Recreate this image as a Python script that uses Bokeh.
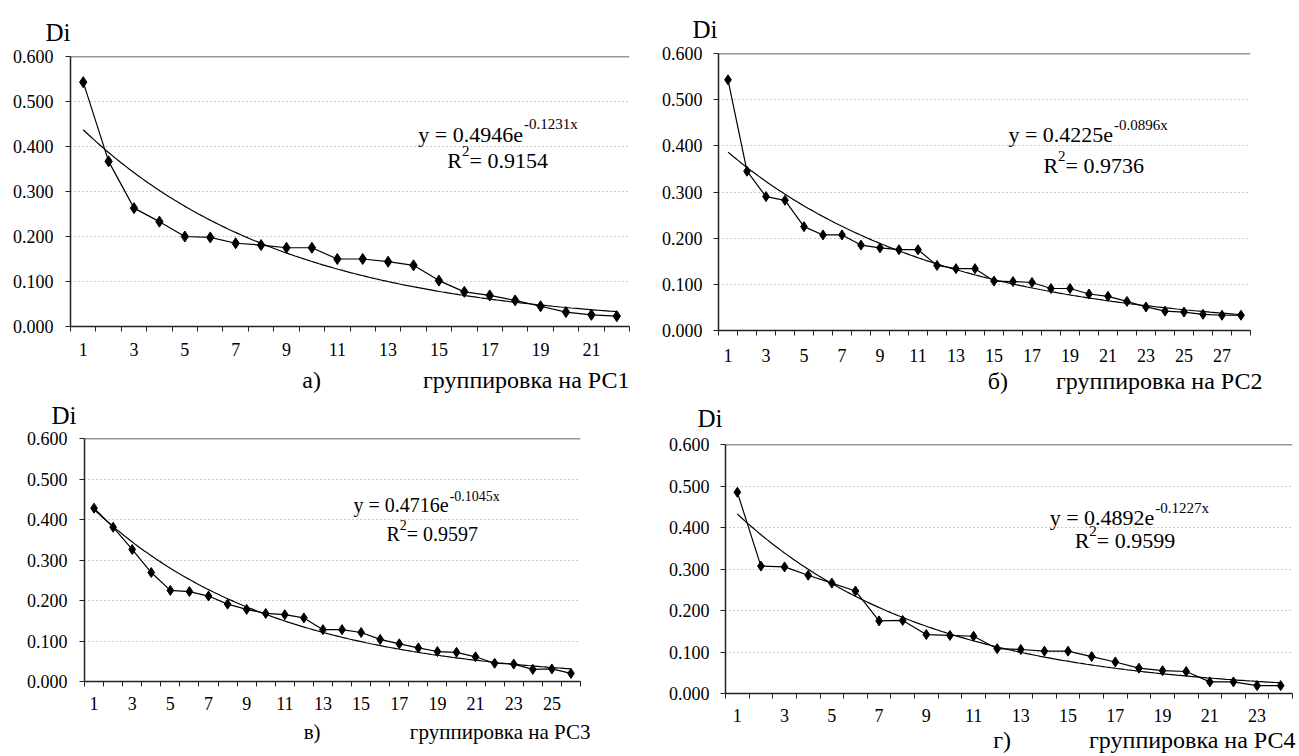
import numpy as np
from bokeh.plotting import figure
from bokeh.models import Range1d, FixedTicker, NumeralTickFormatter, Span, Label, Title, ColumnDataSource
from bokeh.layouts import column, row
from bokeh.embed import file_html
from bokeh.resources import INLINE

# ---------------- data ----------------
x_a = list(range(1, 23))
di_a = [0.543, 0.367, 0.263, 0.233, 0.200, 0.198, 0.185, 0.181, 0.175, 0.175, 0.150,
        0.150, 0.144, 0.136, 0.102, 0.077, 0.069, 0.058, 0.045, 0.032, 0.026, 0.023]
fit_a = [0.4946, -0.1231]
r2_a = "0.9154"

x_b = list(range(1, 29))
di_b = [0.543, 0.345, 0.290, 0.282, 0.225, 0.207, 0.207, 0.185, 0.179, 0.175, 0.175,
        0.141, 0.134, 0.134, 0.107, 0.106, 0.104, 0.091, 0.091, 0.079, 0.074, 0.063,
        0.051, 0.042, 0.040, 0.035, 0.033, 0.033]
fit_b = [0.4225, -0.0896]
r2_b = "0.9736"

x_c = list(range(1, 27))
di_c = [0.428, 0.381, 0.326, 0.269, 0.225, 0.222, 0.211, 0.191, 0.178, 0.168, 0.165,
        0.157, 0.128, 0.128, 0.121, 0.104, 0.093, 0.083, 0.074, 0.072, 0.061, 0.045,
        0.043, 0.030, 0.031, 0.020]
fit_c = [0.4716, -0.1045]
r2_c = "0.9597"

x_d = list(range(1, 25))
di_d = [0.485, 0.307, 0.305, 0.285, 0.266, 0.247, 0.175, 0.176, 0.142, 0.140, 0.138,
        0.108, 0.106, 0.102, 0.102, 0.089, 0.076, 0.061, 0.055, 0.053, 0.028, 0.028,
        0.019, 0.019]
fit_d = [0.4892, -0.1227]
r2_d = "0.9599"

y_ticks = [0.0, 0.1, 0.2, 0.3, 0.4, 0.5, 0.6]
xlabels = ["группировка на РС1", "группировка на РС2", "группировка на РС3", "группировка на РС4"]
letters = ["а)", "б)", "в)", "г)"]
ylabel = "Di"

FONT = "Liberation Serif"
TW = {' ': 250, '=': 564, '.': 250, '-': 333, 'y': 500, 'e': 444, 'R': 667, 'x': 500}
NB = "\u00a0"


def tw(s, size):
    return sum(TW.get(ch, 500) for ch in s) / 1000.0 * size


def panel(xs, ys, fit, r2, xlabel, letter, geo):
    n = len(xs)
    p = figure(width=geo["w"], height=geo["h"], output_backend="svg", toolbar_location=None,
               x_range=Range1d(0.5, n + 0.5), y_range=Range1d(0, 0.6),
               min_border_left=geo["bl"], min_border_right=geo["br"],
               min_border_top=geo["bt"], min_border_bottom=geo["bb"])
    p.outline_line_color = None
    p.background_fill_color = "white"
    p.border_fill_color = None
    p.xgrid.visible = False
    p.ygrid.grid_line_color = "#9a9a9a"
    p.ygrid.grid_line_dash = "1 3"
    p.ygrid.grid_line_width = 1

    odd = [v for v in xs if v % 2 == 1]
    halves = [v + 0.5 for v in range(0, n + 1)]
    xa = p.xaxis[0]
    ya = p.yaxis[0]
    xa.ticker = FixedTicker(ticks=odd, minor_ticks=halves)
    xa.major_tick_line_color = None
    xa.minor_tick_out = 5
    xa.minor_tick_in = 0
    xa.minor_tick_line_color = "#222"
    ya.ticker = FixedTicker(ticks=y_ticks)
    ya.formatter = NumeralTickFormatter(format="0.000")
    ya.major_tick_out = 5
    ya.major_tick_in = 0
    ya.major_tick_line_color = "#222"
    ya.minor_tick_line_color = None
    for ax in (xa, ya):
        ax.axis_line_color = "#222"
        ax.axis_line_width = 1.5
        ax.major_label_text_font = FONT
        ax.major_label_text_font_size = geo["tick"]
        ax.major_label_text_color = "black"
    xa.major_label_standoff = geo["xstand"]
    ya.major_label_standoff = geo["ystand"]

    p.add_layout(Span(location=0.6, dimension="width", line_color="#333", line_width=1.5))

    # trend line from the printed equation
    tx = np.linspace(xs[0], xs[-1], 200)
    ty = fit[0] * np.exp(fit[1] * tx)
    p.line(tx, ty, line_color="black", line_width=1.2)

    src = ColumnDataSource(dict(x=xs, y=ys))
    p.line("x", "y", source=src, line_color="black", line_width=1.2)
    p.scatter("x", "y", source=src, marker="diamond", size=geo["ms"], fill_color="black", line_color="black")

    es = geo["eqs"]
    ss = geo["sups"]
    main = "y = %.4fe" % fit[0]
    sup = "%.4fx" % fit[1]
    common = dict(text_font=FONT, text_align="left", text_baseline="alphabetic", text_color="black")
    p.add_layout(Label(x=geo["eqx"], y=geo["eqy"], text=main, text_font_size="%dpx" % es, **common))
    p.add_layout(Label(x=geo["eqx"], y=geo["eqy"], x_offset=tw(main, es) + 1, y_offset=es * 0.45, text=sup,
                       text_font_size="%dpx" % ss, **common))
    p.add_layout(Label(x=geo["rx"], y=geo["ry"], text="R", text_font_size="%dpx" % es, **common))
    p.add_layout(Label(x=geo["rx"], y=geo["ry"], x_offset=tw("R", es), y_offset=es * 0.45, text="2",
                       text_font_size="%dpx" % ss, **common))
    p.add_layout(Label(x=geo["rx"], y=geo["ry"], x_offset=tw("R", es) + tw("2", ss), text="= " + r2,
                       text_font_size="%dpx" % es, **common))

    p.add_layout(Title(text=ylabel, align="left", offset=geo["dioff"], standoff=geo["distand"],
                       text_font=FONT, text_font_size=geo["di"], text_font_style="normal",
                       text_color="black"), "above")
    cap = letter + NB * geo["gap"] + xlabel
    p.add_layout(Title(text=cap, align="right", offset=geo["capoff"], standoff=geo["capstand"],
                       text_font=FONT, text_font_size=geo["lab"], text_font_style="normal",
                       text_color="black"), "below")
    return p


geo_a = dict(w=640, h=400, bl=70, br=11, bt=56, bb=74, tick="18px", xstand=10, ystand=12, ms=11,
             eqs=22, sups=15, eqx=14.19, eqy=0.427, rx=15.33, ry=0.369,
             di="25px", dioff=-25, distand=21, lab="24px", gap=17, capoff=0, capstand=12)
geo_b = dict(w=658, h=400, bl=78, br=48, bt=53, bb=70, tick="18px", xstand=12, ystand=11, ms=10,
             eqs=22, sups=15, eqx=15.76, eqy=0.424, rx=17.6, ry=0.357,
             di="25px", dioff=-26, distand=22, lab="24px", gap=8, capoff=-12, capstand=3)
geo_c = dict(w=640, h=366, bl=84, br=60, bt=50, bb=73, tick="18px", xstand=9, ystand=12, ms=10,
             eqs=20, sups=14, eqx=14.6, eqy=0.435, rx=16.33, ry=0.363,
             di="25px", dioff=-33, distand=19, lab="21px", gap=17, capoff=-10, capstand=11)
geo_d = dict(w=658, h=366, bl=85, br=6, bt=56, bb=61, tick="18px", xstand=9, ystand=11, ms=10,
             eqs=22, sups=15, eqx=14.22, eqy=0.424, rx=15.28, ry=0.368,
             di="25px", dioff=-28, distand=25, lab="24px", gap=13, capoff=-3, capstand=1)

pa = panel(x_a, di_a, fit_a, r2_a, xlabels[0], letters[0], geo_a)
pb = panel(x_b, di_b, fit_b, r2_b, xlabels[1], letters[1], geo_b)
pc = panel(x_c, di_c, fit_c, r2_c, xlabels[2], letters[2], geo_c)
pd = panel(x_d, di_d, fit_d, r2_d, xlabels[3], letters[3], geo_d)

top = row(column(pa), column(pb), spacing=0)
bottom = row(column(pc), column(pd), spacing=0, margin=(-12, 0, 0, 0))
layout = column(top, bottom, spacing=0)
open("out.html", "w").write(file_html(layout, INLINE))
